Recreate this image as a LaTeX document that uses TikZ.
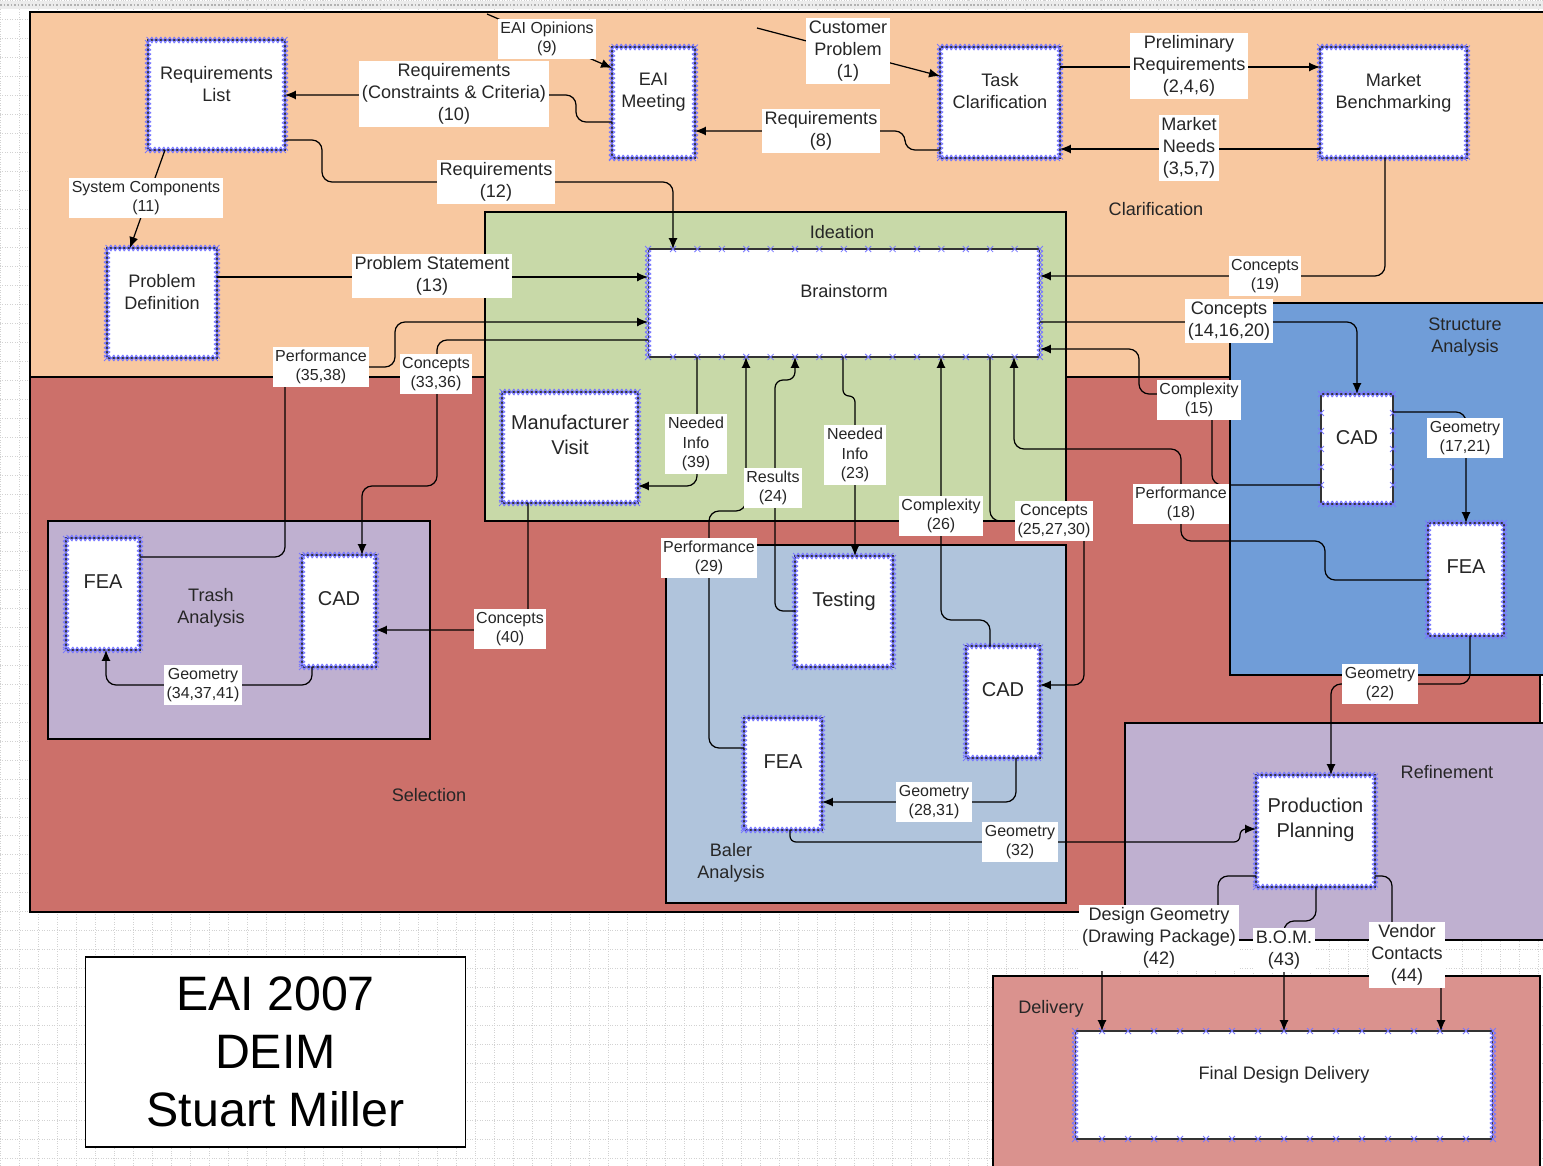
\documentclass[tikz,border=0pt]{standalone}
\usepackage{fontspec}
\setmainfont{Liberation Sans}
\usepackage{tikz}
\usetikzlibrary{arrows.meta,decorations.markings}

\definecolor{clarcol}{RGB}{248,200,160}
\definecolor{selcol}{RGB}{204,112,106}
\definecolor{ideacol}{RGB}{200,217,168}
\definecolor{lilaccol}{RGB}{191,176,208}
\definecolor{balercol}{RGB}{176,196,220}
\definecolor{structcol}{RGB}{112,157,216}
\definecolor{delivcol}{RGB}{218,146,142}
\definecolor{xblue}{RGB}{120,120,255}

\newcommand{\tagbig}{\fontsize{10.3}{12.4}\selectfont}
\newcommand{\tagsml}{\fontsize{9.1}{11.2}\selectfont}
\newcommand{\boxbig}{\fontsize{11.4}{13.8}\selectfont}
\newcommand{\ttlfont}{\fontsize{27.5}{33}\selectfont}

\tikzset{
  area/.style={draw=black, line width=0.9pt},
  areatxt/.style={align=center, font=\tagbig, text=black!85},
  xmark/.style={decoration={markings, mark=between positions 0 and 1 step #1 with {\draw[xblue, line width=0.45pt] (-1.7pt,-1.7pt) -- (1.7pt,1.7pt) (-1.7pt,1.7pt) -- (1.7pt,-1.7pt);}}, postaction={decorate}},
  proc/.style={draw=black!80, line width=0.6pt, fill=white, inner sep=0pt, outer sep=0pt},
  procx/.style={proc, xmark=0.09cm},
  ta/.style={label={[anchor=north, yshift=-0.52cm, inner sep=0pt, align=center, font=\tagbig, text=black!85]north:#1}},
  tb/.style={label={[anchor=north, yshift=-0.71cm, inner sep=0pt, align=center, font=\tagbig, text=black!85]north:#1}},
  tc/.style={label={[anchor=north, yshift=-0.72cm, inner sep=0pt, align=center, font=\boxbig, text=black!85]north:#1}},
  td/.style={label={[anchor=north, yshift=-0.46cm, inner sep=0pt, align=center, font=\boxbig, text=black!85]north:#1}},
  tag/.style={fill=white, inner xsep=1.5pt, inner ysep=1.5pt, align=center, font=\tagbig, text=black!85},
  tagsm/.style={tag, font=\tagsml},
  flow/.style={line width=0.7pt, rounded corners=0.2cm, -{Latex[length=2.2mm, width=1.8mm]}}
}

\begin{document}
\begin{tikzpicture}[x=0.02cm, y=-0.02cm]
    \useasboundingbox (0,0) rectangle (1543,1166);
    \fill[white] (0,0) rectangle (1543,1166);
    \draw[gray!35, densely dotted, step=0.38cm] (0,1166) grid (1543,0);
    \fill[gray!15] (0,1) rectangle (1543,9);
    \draw[gray!60, line width=1.2pt, dash pattern=on 1pt off 1pt] (0,5) -- (1543,5);

    % Phases
    \draw[area, fill=clarcol] (30,12) rectangle (1560,377);
    \draw[area, fill=selcol] (30,377) rectangle (1540,912);
    \draw[area, fill=ideacol] (485,212) rectangle (1066,521);
    \draw[area, fill=lilaccol] (48,521) rectangle (430,739);
    \draw[area, fill=balercol] (666,545) rectangle (1066,903);
    \draw[area, fill=structcol] (1230,303) rectangle (1560,675);
    \draw[area, fill=lilaccol] (1125,723) rectangle (1560,940);
    \draw[area, fill=delivcol] (993,976) rectangle (1540,1180);

    \node[areatxt] (clartxt) at (1156,209) {Clarification};
    \node[areatxt] (ideatxt) at (842,232) {Ideation};
    \node[areatxt] (structtxt) at (1465,337) {Structure\\Analysis};
    \node[areatxt] (trashtxt) at (211,608) {Trash\\Analysis};
    \node[areatxt] (seltxt) at (429,795) {Selection};
    \node[areatxt] (balertxt) at (731,863) {Baler\\Analysis};
    \node[areatxt] (refitxt) at (1447,772) {Refinement};
    \node[areatxt] (delivtxt) at (1051,1009) {Delivery};

    % Title
    \node[draw=black, line width=0.6pt, fill=white, minimum width=7.62cm, minimum height=3.8cm, align=center, font=\ttlfont] (title) at (275.5,1052) {EAI 2007\\DEIM\\Stuart Miller};

    % Clarification boxes
    \node[procx, minimum width=2.74cm, minimum height=2.2cm, ta={Requirements\\List}] (reqlist) at (216.5,95) {};
    \node[procx, minimum width=1.66cm, minimum height=2.22cm, ta={EAI\\Meeting}] (eai) at (653.5,102.5) {};
    \node[procx, minimum width=2.4cm, minimum height=2.22cm, ta={Task\\Clarification}] (task) at (1000,102.5) {};
    \node[procx, minimum width=2.94cm, minimum height=2.22cm, ta={Market\\Benchmarking}] (market) at (1393.5,102.5) {};
    \node[procx, minimum width=2.2cm, minimum height=2.2cm, ta={Problem\\Definition}] (probdef) at (162,303) {};

    % Ideation boxes
    \node[proc, minimum width=7.84cm, minimum height=2.16cm, tb={Brainstorm}] (brain) at (844,303) {};
    \path[xmark=0.09cm] (brain.north west) -- (brain.south west);
    \path[xmark=0.09cm] (brain.north east) -- (brain.south east);
    \path[xmark=0.488cm] ([xshift=0.5cm]brain.north west) -- ([xshift=-0.4cm]brain.north east);
    \path[xmark=0.488cm] ([xshift=0.5cm]brain.south west) -- ([xshift=-0.4cm]brain.south east);
    \node[procx, minimum width=2.72cm, minimum height=2.22cm, td={Manufacturer\\Visit}] (mfg) at (570,447.5) {};

    % Trash and Baler boxes
    \node[procx, minimum width=1.48cm, minimum height=2.24cm, tc={FEA}] (tfea) at (103,594) {};
    \node[procx, minimum width=1.48cm, minimum height=2.24cm, tc={CAD}] (tcad) at (339,611) {};
    \node[procx, minimum width=1.96cm, minimum height=2.22cm, tc={Testing}] (test) at (844,611.5) {};
    \node[procx, minimum width=1.48cm, minimum height=2.24cm, tc={CAD}] (bcad) at (1003,702) {};
    \node[procx, minimum width=1.56cm, minimum height=2.24cm, tc={FEA}] (bfea) at (783,774) {};

    % Structure boxes
    \node[proc, minimum width=1.44cm, minimum height=2.2cm, tc={CAD}] (scad) at (1357,449) {};
    \path[xmark=0.09cm] (scad.north west) -- (scad.north east);
    \path[xmark=0.09cm] (scad.south west) -- (scad.south east);
    \path[xmark=0.36cm] ([yshift=-0.38cm]scad.north west) -- ([yshift=0.3cm]scad.south west);
    \path[xmark=0.36cm] ([yshift=-0.38cm]scad.north east) -- ([yshift=0.3cm]scad.south east);
    \node[procx, minimum width=1.52cm, minimum height=2.26cm, tc={FEA}] (sfea) at (1466,579.5) {};

    % Refinement and Delivery boxes
    \node[procx, minimum width=2.38cm, minimum height=2.24cm, td={Production\\Planning}] (prod) at (1315.5,831) {};
    \node[proc, minimum width=8.36cm, minimum height=2.16cm, tb={Final Design Delivery}] (final) at (1284,1085) {};
    \path[xmark=0.09cm] (final.north west) -- (final.south west);
    \path[xmark=0.09cm] (final.north east) -- (final.south east);
    \path[xmark=0.52cm] ([xshift=0.54cm]final.north west) -- ([xshift=-0.4cm]final.north east);
    \path[xmark=0.52cm] ([xshift=0.54cm]final.south west) -- ([xshift=-0.4cm]final.south east);

    % Free ends
    \coordinate (eo) at (487,14);
    \coordinate (cp) at (757,28);

    % Clarification flows
    \draw[flow] (eo) -- (eai.west |- 0,68);
    \draw[flow] (cp) -- (task.west |- 0,76);
    \draw[flow] (task.east |- 0,67) -- (market.west |- 0,67);
    \draw[flow] (market.west |- 0,149) -- (task.east |- 0,149);
    \draw[flow] (task.west |- 0,150) -- (905,150) -- (905,131) -- (eai.east |- 0,131);
    \draw[flow] (eai.west |- 0,122) -- (576,122) -- (576,95) -- (reqlist.east |- 0,95);
    \draw[flow] (reqlist.south -| 165,0) -- (probdef.north -| 130,0);
    \draw[flow] (reqlist.east |- 0,140) -- (322,140) -- (322,182) -- (673,182) -- (brain.north -| 673,0);
    \draw[flow] (probdef.east |- 0,277) -- (brain.west |- 0,277);
    \draw[flow] (market.south -| 1385,0) -- (1385,276) -- (brain.east |- 0,276);

    % Trash flows
    \draw[flow] (tfea.east |- 0,557) -- (285,557) -- (285,367) -- (395,367) -- (395,322) -- (brain.west |- 0,322);
    \draw[flow] (brain.west |- 0,340) -- (437,340) -- (437,486) -- (362,486) -- (tcad.north -| 362,0);
    \draw[flow] (brain.south -| 697,0) -- (697,486) -- (mfg.east |- 0,486);
    \draw[flow] (mfg.south -| 528,0) -- (528,630) -- (tcad.east |- 0,630);
    \draw[flow] (tcad.south -| 312,0) -- (312,685) -- (106,685) -- (tfea.south -| 106,0);

    % Baler flows
    \draw[flow, rounded corners=0.16cm] (test.west |- 0,611) -- (775,611) -- (775,380) -- (795,380) -- (brain.south -| 795,0);
    \draw[flow, rounded corners=0.12cm] (brain.south -| 843,0) -- (843,396) -- (855,396) -- (test.north -| 855,0);
    \draw[flow] (bfea.west |- 0,748) -- (709,748) -- (709,511) -- (746,511) -- (brain.south -| 746,0);
    \draw[flow] (bcad.north -| 990,0) -- (990,620) -- (941,620) -- (brain.south -| 941,0);
    \draw[flow] (brain.south -| 990,0) -- (990,521) -- (1084,521) -- (1084,685) -- (bcad.east |- 0,685);
    \draw[flow] (bcad.south -| 1016,0) -- (1016,802) -- (bfea.east |- 0,802);
    \draw[flow, rounded corners=0.12cm] (bfea.south -| 790,0) -- (790,842) -- (1240,842) -- (1240,829) -- (prod.west |- 0,829);

    % Structure flows
    \draw[flow] (brain.east |- 0,322) -- (1357,322) -- (scad.north -| 1357,0);
    \draw[flow] (scad.west |- 0,485) -- (1212,485) -- (1212,394) -- (1139,394) -- (1139,349) -- (brain.east |- 0,349);
    \draw[flow] (sfea.west |- 0,580) -- (1325,580) -- (1325,541) -- (1181,541) -- (1181,449) -- (1014,449) -- (brain.south -| 1014,0);
    \draw[flow] (scad.east |- 0,412) -- (1466,412) -- (sfea.north -| 1466,0);
    \draw[flow] (sfea.south -| 1470,0) -- (1470,684) -- (1331,684) -- (prod.north -| 1331,0);

    % Delivery flows
    \draw[flow] (prod.west |- 0,876) -- (1218,876) -- (1218,941) -- (1102,941) -- (final.north -| 1102,0);
    \draw[flow] (prod.south -| 1316,0) -- (1316,921) -- (1284,921) -- (final.north -| 1284,0);
    \draw[flow] (prod.east |- 0,876) -- (1392,876) -- (1392,954) -- (1441,954) -- (final.north -| 1441,0);

    % Flow labels
    \node[tagsm] (t9) at (547,39) {EAI Opinions\\(9)};
    \node[tag] (t1) at (848,51) {Customer\\Problem\\(1)};
    \node[tag] (t246) at (1189,66) {Preliminary\\Requirements\\(2,4,6)};
    \node[tag] (t357) at (1189,148) {Market\\Needs\\(3,5,7)};
    \node[tag] (t8) at (821,131) {Requirements\\(8)};
    \node[tag] (t10) at (454,94) {Requirements\\(Constraints \& Criteria)\\(10)};
    \node[tagsm] (t11) at (146,198) {System Components\\(11)};
    \node[tag] (t12) at (496,182) {Requirements\\(12)};
    \node[tag] (t13) at (432,276) {Problem Statement\\(13)};
    \node[tagsm] (t19) at (1265,276) {Concepts\\(19)};
    \node[tagsm] (t3538) at (321,367) {Performance\\(35,38)};
    \node[tagsm] (t3336) at (436,374) {Concepts\\(33,36)};
    \node[tagsm] (t39) at (696,444) {Needed\\Info\\(39)};
    \node[tagsm] (t40) at (510,629) {Concepts\\(40)};
    \node[tagsm] (t343741) at (203,685) {Geometry\\(34,37,41)};
    \node[tagsm] (t24) at (773,488) {Results\\(24)};
    \node[tagsm] (t23) at (855,455) {Needed\\Info\\(23)};
    \node[tagsm] (t29) at (709,558) {Performance\\(29)};
    \node[tagsm] (t26) at (941,516) {Complexity\\(26)};
    \node[tagsm] (t252730) at (1054,521) {Concepts\\(25,27,30)};
    \node[tagsm] (t2831) at (934,802) {Geometry\\(28,31)};
    \node[tagsm] (t32) at (1020,842) {Geometry\\(32)};
    \node[tag] (t141620) at (1229,321) {Concepts\\(14,16,20)};
    \node[tagsm] (t15) at (1199,400) {Complexity\\(15)};
    \node[tagsm] (t18) at (1181,504) {Performance\\(18)};
    \node[tagsm] (t1721) at (1465,438) {Geometry\\(17,21)};
    \node[tagsm] (t22) at (1380,684) {Geometry\\(22)};
    \node[tag] (t42) at (1159,938) {Design Geometry\\(Drawing Package)\\(42)};
    \node[tag] (t43) at (1284,950) {B.O.M.\\(43)};
    \node[tag] (t44) at (1407,955) {Vendor\\Contacts\\(44)};
\end{tikzpicture}
\end{document}
